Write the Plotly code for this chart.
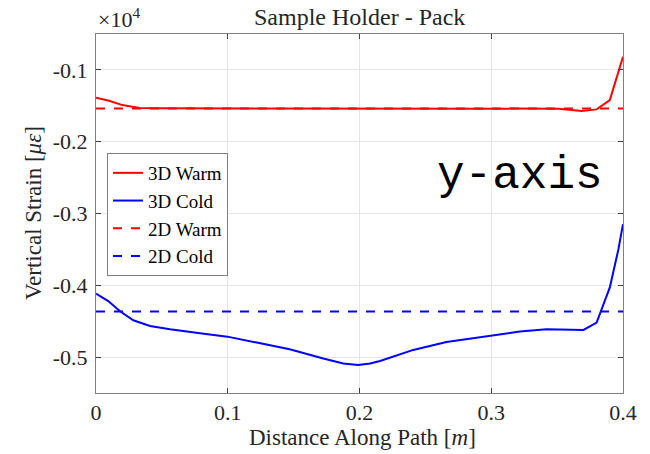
import plotly.graph_objects as go

# Data (values in units of 1e4 microstrain)
x_3d_warm = [0.0, 0.010, 0.020, 0.033, 0.05, 0.10, 0.15, 0.20, 0.25, 0.30, 0.351, 0.3687, 0.380, 0.390, 0.400]
y_3d_warm = [-0.1387, -0.1430, -0.1490, -0.1530, -0.1535, -0.1535, -0.1535, -0.1535, -0.1535, -0.1535, -0.1540, -0.1574, -0.1550, -0.1420, -0.0816]

x_3d_cold = [0.0, 0.0093, 0.018, 0.0283, 0.041, 0.0562, 0.079, 0.0997, 0.122, 0.147, 0.1725, 0.1877, 0.199, 0.208,
             0.2156, 0.2408, 0.266, 0.300, 0.3218, 0.342, 0.352, 0.370, 0.380, 0.390, 0.3965, 0.400]
y_3d_cold = [-0.4116, -0.4219, -0.4358, -0.4487, -0.4566, -0.4613, -0.4669, -0.4715, -0.4798, -0.4891, -0.5020, -0.5090, -0.5110, -0.5090,
             -0.5054, -0.4900, -0.4790, -0.4696, -0.4645, -0.4613, -0.4613, -0.4622, -0.4520, -0.4030, -0.3500, -0.3150]

x_2d = [0.0, 0.4]
y_2d_warm = [-0.1536, -0.1536]
y_2d_cold = [-0.4366, -0.4366]

x_ticks = [0, 0.1, 0.2, 0.3, 0.4]
x_tick_labels = ["0", "0.1", "0.2", "0.3", "0.4"]
y_ticks = [-0.1, -0.2, -0.3, -0.4, -0.5]
y_tick_labels = ["-0.1", "-0.2", "-0.3", "-0.4", "-0.5"]

serif = "Liberation Serif, Times New Roman, serif"
txt = "#262626"

W, H = 650, 454
L, R, T, B = 96, 27, 34, 61

fig = go.Figure()
fig.add_trace(go.Scatter(x=x_3d_warm, y=y_3d_warm, mode="lines", name="3D Warm",
                         line=dict(color="#ff0000", width=2)))
fig.add_trace(go.Scatter(x=x_3d_cold, y=y_3d_cold, mode="lines", name="3D Cold",
                         line=dict(color="#0000ff", width=2)))
fig.add_trace(go.Scatter(x=x_2d, y=y_2d_warm, mode="lines", name="2D Warm",
                         line=dict(color="#ff0000", width=2, dash="dash")))
fig.add_trace(go.Scatter(x=x_2d, y=y_2d_cold, mode="lines", name="2D Cold",
                         line=dict(color="#0000ff", width=2, dash="dash")))

axis_common = dict(showline=True, linecolor="#808080", linewidth=1, mirror="ticks",
                   ticks="inside", ticklen=5, tickcolor="#404040",
                   showgrid=True, gridcolor="#e6e6e6", gridwidth=1, zeroline=False,
                   automargin=False,
                   tickfont=dict(family=serif, size=22, color=txt))

fig.update_layout(
    width=W, height=H,
    margin=dict(l=L, r=R, t=T, b=B),
    paper_bgcolor="white", plot_bgcolor="white",
    xaxis=dict(range=[0, 0.4], tickvals=x_ticks, ticktext=x_tick_labels,
               ticklabelstandoff=0, **axis_common),
    yaxis=dict(range=[-0.55, -0.05], tickvals=y_ticks, ticktext=y_tick_labels,
               ticklabelstandoff=3, **axis_common),
    legend=dict(x=(107 - L) / (W - L - R), y=(H - B - 153) / (H - T - B),
                xanchor="left", yanchor="top",
                bgcolor="white", bordercolor="#808080", borderwidth=1,
                font=dict(family=serif, size=19, color="black"),
                tracegroupgap=0, itemwidth=30),
    showlegend=True,
    annotations=[
        dict(text="Sample Holder - Pack", xref="paper", yref="paper",
             x=0.5, y=1 + (T - 17) / (H - T - B), xanchor="center", yanchor="middle",
             showarrow=False, font=dict(family=serif, size=24, color=txt)),
        dict(text="Distance Along Path [<i>m</i>]", xref="paper", yref="paper",
             x=(362 - L) / (W - L - R), y=-(437 - (H - B)) / (H - T - B),
             xanchor="center", yanchor="middle", showarrow=False,
             font=dict(family=serif, size=23, color=txt)),
        dict(text="Vertical Strain [<i>με</i>]", xref="paper", yref="paper",
             x=-(L - 33) / (W - L - R), y=(H - B - 213) / (H - T - B), textangle=-90,
             xanchor="center", yanchor="middle", showarrow=False,
             font=dict(family=serif, size=23, color=txt)),
        dict(text="×10<sup>4</sup>", xref="paper", yref="paper", x=0.0, y=1.0,
             xanchor="left", yanchor="bottom", showarrow=False, yshift=0,
             font=dict(family=serif, size=22, color=txt)),
        dict(text="y-axis", xref="paper", yref="paper",
             x=(520 - L) / (W - L - R), y=(H - B - 176) / (H - T - B),
             xanchor="center", yanchor="middle", showarrow=False,
             font=dict(family="Liberation Mono, Courier New, monospace", size=46, color="black")),
    ],
)

fig.write_html("out.html", config={"displayModeBar": False},
               post_script="document.body.style.margin='0';")
